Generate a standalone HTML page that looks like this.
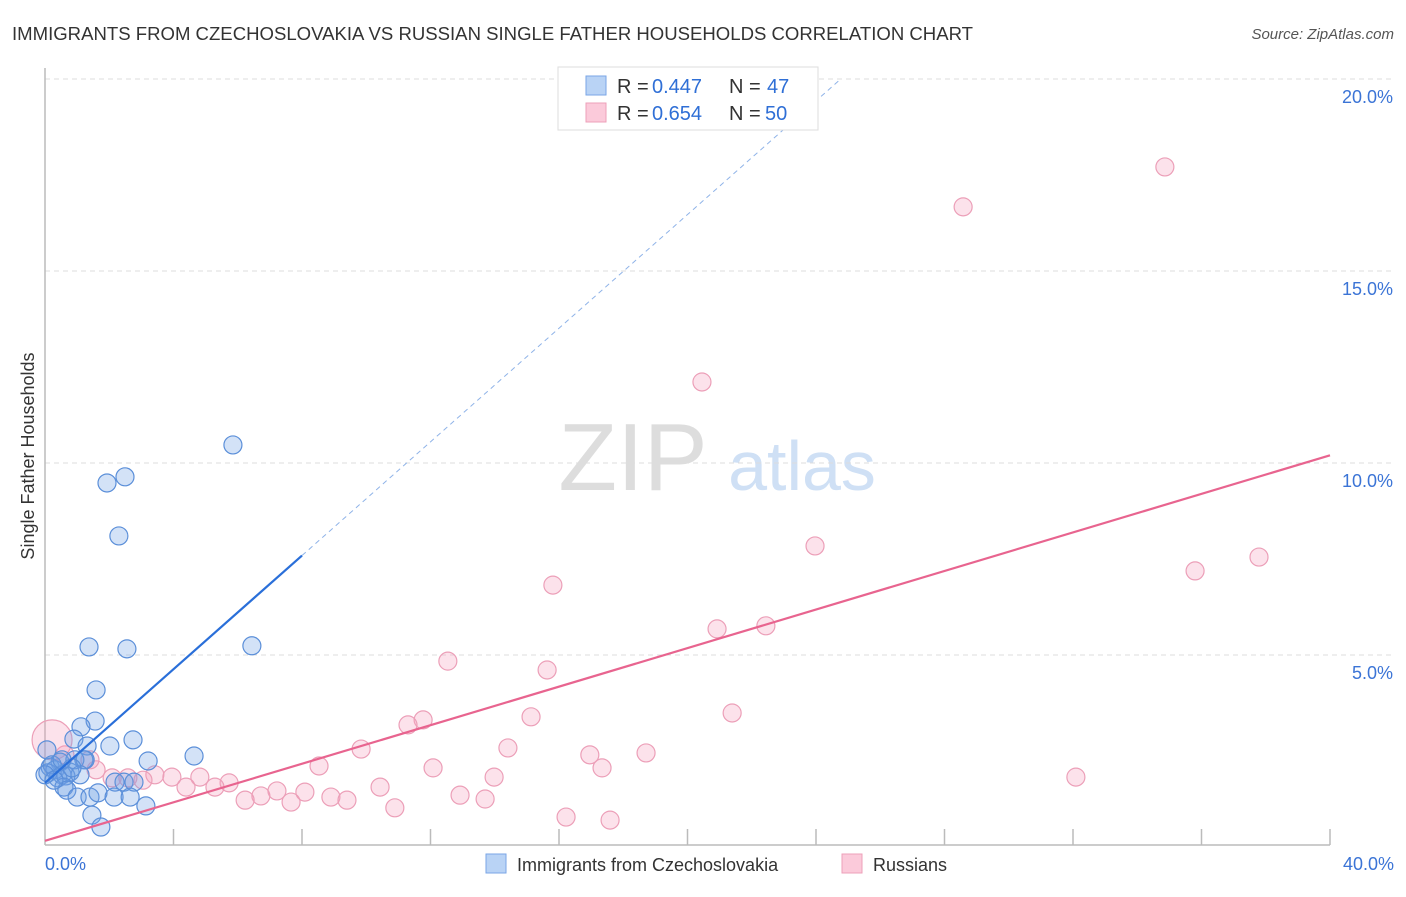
<!DOCTYPE html>
<html><head><meta charset="utf-8"><style>
body{margin:0;background:#fff;font-family:"Liberation Sans",sans-serif}
svg text{font-family:"Liberation Sans",sans-serif}
</style></head><body>
<svg id="chart" width="1406" height="892" xmlns="http://www.w3.org/2000/svg">
<text x="12" y="40" font-size="18" fill="#333" textLength="961" lengthAdjust="spacingAndGlyphs">IMMIGRANTS FROM CZECHOSLOVAKIA VS RUSSIAN SINGLE FATHER HOUSEHOLDS CORRELATION CHART</text>
<text x="1394" y="39" font-size="15" fill="#555" text-anchor="end" font-style="italic">Source: ZipAtlas.com</text>
<g>
<text x="633" y="490" font-size="96" fill="#ddd" font-family="Liberation Serif" text-anchor="middle">ZIP</text>
<text x="802" y="490" font-size="70" fill="#cfe0f5" text-anchor="middle">atlas</text>
</g>
<g id="grid"></g>
<g id="axes"></g>
<g id="marks"></g>
<text transform="translate(34,456) rotate(-90)" font-size="18" fill="#333" text-anchor="middle">Single Father Households</text>
<text x="45" y="870" font-size="18" fill="#3b74d6">0.0%</text>
<text x="1394" y="870" font-size="18" fill="#3b74d6" text-anchor="end">40.0%</text>
<g>
<rect x="558" y="67" width="260" height="63" fill="#fff" stroke="#ddd"/>
<rect x="586" y="76" width="20" height="19" fill="#b9d3f5" stroke="#7aa6e6"/>
<rect x="586" y="103" width="20" height="19" fill="#fbcada" stroke="#eea0b9"/>
<text x="617" y="93" font-size="20" fill="#333">R =</text>
<text x="652" y="93" font-size="20" fill="#2f6fd6">0.447</text>
<text x="729" y="93" font-size="20" fill="#333">N =</text>
<text x="767" y="93" font-size="20" fill="#2f6fd6">47</text>
<text x="617" y="120" font-size="20" fill="#333">R =</text>
<text x="652" y="120" font-size="20" fill="#2f6fd6">0.654</text>
<text x="729" y="120" font-size="20" fill="#333">N =</text>
<text x="765" y="120" font-size="20" fill="#2f6fd6">50</text>
</g>
<g>
<rect x="486" y="854" width="20" height="19" fill="#b9d3f5" stroke="#7aa6e6"/>
<text x="517" y="871" font-size="18" fill="#333">Immigrants from Czechoslovakia</text>
<rect x="842" y="854" width="20" height="19" fill="#fbcada" stroke="#eea0b9"/>
<text x="873" y="871" font-size="18" fill="#333">Russians</text>
</g>
</svg>
<script>
const yTicks=[5,10,15,20];
const yTickLabels=["5.0%","10.0%","15.0%","20.0%"];
const xTicks=[4,8,12,16,20,24,28,32,36,40];
const blueX=[5.85,2.49,1.93,2.30,6.44,1.37,2.55,1.59,1.56,1.12,0.90,2.74,2.02,1.31,3.21,4.64,1.21,0.47,0.16,0.31,0.09,0.53,0.78,0.40,0.65,2.18,2.46,2.77,0.59,0.68,1.00,1.40,1.65,2.15,2.65,3.14,1.46,1.74,0.06,0.22,0.93,1.25,0.0,0.28,1.09,0.84,0.53];
const blueY=[10.47,9.64,9.48,8.10,5.24,5.21,5.16,4.09,3.28,3.13,2.81,2.79,2.63,2.63,2.24,2.37,2.27,2.21,2.08,2.01,1.93,1.88,1.95,1.80,1.85,1.69,1.69,1.69,1.56,1.48,1.30,1.30,1.41,1.30,1.30,1.07,0.83,0.52,2.53,2.14,2.27,2.27,1.88,1.74,1.88,2.06,2.27];
const pinkX=[34.86,28.58,20.45,23.97,37.79,35.80,15.81,20.92,22.44,12.54,15.63,21.39,15.13,11.77,11.30,9.84,14.41,18.71,16.96,8.53,12.08,17.34,32.09,13.98,3.42,3.95,4.82,5.73,3.05,2.58,2.09,1.59,10.43,8.09,7.22,6.72,6.23,7.66,8.90,9.40,12.92,13.70,10.89,16.22,17.59,5.29,4.39,1.40,0.62,0.22];
const pinkY=[17.71,16.67,12.11,7.84,7.55,7.19,6.82,5.68,5.76,4.84,4.61,3.49,3.39,3.31,3.18,2.55,2.58,2.45,2.40,2.11,2.06,2.06,1.82,1.82,1.88,1.82,1.82,1.67,1.74,1.80,1.80,2.01,1.56,1.43,1.46,1.33,1.22,1.17,1.30,1.22,1.35,1.25,1.02,0.78,0.70,1.56,1.56,2.27,2.40,2.79];
const blueTrend=[1.67,0.74];
const pinkTrend=[0.16,0.251];
const X0=45,X1=1330,Y0=847,PXY=38.4;
function sx(v){return X0+v/40*(X1-X0);}
function sy(v){return Y0-v*PXY;}
const NS="http://www.w3.org/2000/svg";
function mk(tag,attrs,parent){const e=document.createElementNS(NS,tag);for(const k in attrs)e.setAttribute(k,attrs[k]);parent.appendChild(e);return e;}
const grid=document.getElementById('grid'),axes=document.getElementById('axes'),marks=document.getElementById('marks');
yTicks.forEach((t,i)=>{
 const l=mk('line',{x1:45,x2:1395,y1:sy(t),y2:sy(t),stroke:'#ddd','stroke-dasharray':'5,4'},grid);
 
 
 const tx=mk('text',{x:1393,y:sy(t)+24,'font-size':18,fill:'#3b74d6','text-anchor':'end'},grid);
 tx.textContent=yTickLabels[i];
 
 
});
const ya=mk('line',{x1:45,x2:45,y1:68,y2:845,stroke:'#bbb','stroke-width':1.5},axes);


const xa=mk('line',{x1:45,x2:1330,y1:845,y2:845,stroke:'#bbb','stroke-width':1.5},axes);


xTicks.forEach(t=>{
 const l=mk('line',{x1:sx(t),x2:sx(t),y1:829,y2:845,stroke:'#bbb','stroke-width':1.5},axes);
 
 
});
pinkX.forEach((x,i)=>{
 const r=i===pinkX.length-1?20:9;
 const c=mk('circle',{cx:sx(x),cy:sy(pinkY[i]),r:r,fill:'rgba(244,160,188,0.3)',stroke:'#ec9fb8','stroke-width':1.2},marks);
 
 
});
blueX.forEach((x,i)=>{
 const c=mk('circle',{cx:sx(x),cy:sy(blueY[i]),r:9,fill:'rgba(110,160,230,0.3)',stroke:'#5b8fd9','stroke-width':1.2},marks);
 
 
});
const bl=mk('line',{x1:sx(0),y1:sy(blueTrend[0]),x2:sx(8),y2:sy(blueTrend[0]+blueTrend[1]*8),stroke:'#2a6fd9','stroke-width':2.2},marks);


const bd=mk('line',{x1:sx(8),y1:sy(blueTrend[0]+blueTrend[1]*8),x2:sx(24.7),y2:sy(blueTrend[0]+blueTrend[1]*24.7),stroke:'#8fb3e8','stroke-width':1,'stroke-dasharray':'5,4'},marks);


const pl=mk('line',{x1:sx(0),y1:sy(pinkTrend[0]),x2:sx(40),y2:sy(pinkTrend[0]+pinkTrend[1]*40),stroke:'#e8648f','stroke-width':2.2},marks);


</script>
</body></html>
